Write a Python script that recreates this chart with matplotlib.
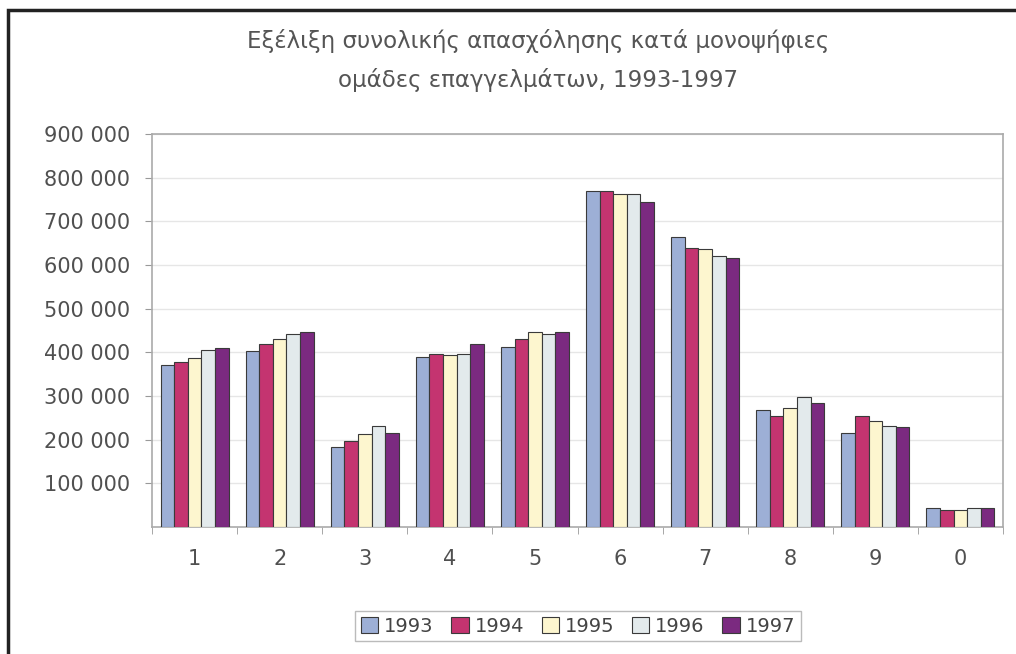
import matplotlib.pyplot as plt
import numpy as np
from matplotlib.patches import Rectangle

# Employment by one-digit occupation group, 1993-1997
groups = ["1", "2", "3", "4", "5", "6", "7", "8", "9", "0"]
years = ["1993", "1994", "1995", "1996", "1997"]
v1993 = [370000, 402000, 184000, 390000, 412000, 769000, 663000, 267000, 215000, 43000]
v1994 = [379000, 420000, 197000, 397000, 430000, 769000, 640000, 255000, 255000, 39000]
v1995 = [388000, 430000, 213000, 395000, 446000, 762000, 637000, 273000, 242000, 39000]
v1996 = [405000, 441000, 231000, 397000, 441000, 762000, 621000, 297000, 231000, 43000]
v1997 = [411000, 446000, 215000, 420000, 446000, 745000, 616000, 284000, 229000, 43000]
colors = ["#9dafd6", "#c43470", "#fdf6cf", "#e3eaec", "#7b2a80"]

series = [v1993, v1994, v1995, v1996, v1997]

plt.rcParams['font.family'] = ['DejaVu Sans']

fig = plt.figure(figsize=(10.16, 6.54), dpi=100)
ax = fig.add_axes([152 / 1016, 1 - 527 / 654, (1003 - 152) / 1016, (527 - 134) / 654])

x = np.arange(len(groups))
w = 0.16
for i, (vals, c, yr) in enumerate(zip(series, colors, years)):
    ax.bar(x + (i - 2) * w, vals, width=w, color=c, edgecolor="#3a3a3a",
           linewidth=0.8, label=yr, zorder=3)

ax.set_xlim(-0.5, len(groups) - 0.5)
ax.set_ylim(0, 900000)
yt = np.arange(100000, 900001, 100000)
ax.set_yticks(yt)
ax.set_yticklabels([f"{v // 1000} 000" for v in yt], fontsize=15, color="#505050")
ax.set_xticks(x)
ax.set_xticklabels(groups, fontsize=15, color="#505050")
ax.tick_params(axis="x", length=0, pad=16)
ax.set_xticks(np.arange(-0.5, len(groups)), minor=True)
ax.tick_params(axis="x", which="minor", length=5, color="#999999")
ax.tick_params(axis="y", length=5, color="#999999", pad=11)
ax.grid(axis="y", color="#e6e6e6", linewidth=1, zorder=0)
for s in ax.spines.values():
    s.set_color("#aaaaaa")
    s.set_linewidth(1.2)

fig.text(538 / 1016, 1 - 48 / 654, "Εξέλιξη συνολικής απασχόλησης κατά μονοψήφιες",
         ha="center", va="baseline", fontsize=16.5, color="#555555")
fig.text(538 / 1016, 1 - 87 / 654, "ομάδες επαγγελμάτων, 1993-1997",
         ha="center", va="baseline", fontsize=16.5, color="#555555")

leg = fig.legend(loc="center", bbox_to_anchor=(578 / 1016, 1 - 626 / 654), ncol=5,
                 fontsize=14, frameon=True, fancybox=False, handlelength=0.9,
                 handleheight=0.9, handletextpad=0.3, columnspacing=0.9,
                 borderpad=0.3)
leg.get_frame().set_edgecolor("#aaaaaa")
for t in leg.get_texts():
    t.set_color("#444444")

# black frame of the scanned figure (top and left edges visible)
fig.patches.append(Rectangle((8 / 1016, -0.05), 1.1, 1 - 10 / 654 + 0.05,
                             transform=fig.transFigure, fill=False,
                             edgecolor="#222222", linewidth=2.5))

fig.savefig("out.png", dpi=100)
